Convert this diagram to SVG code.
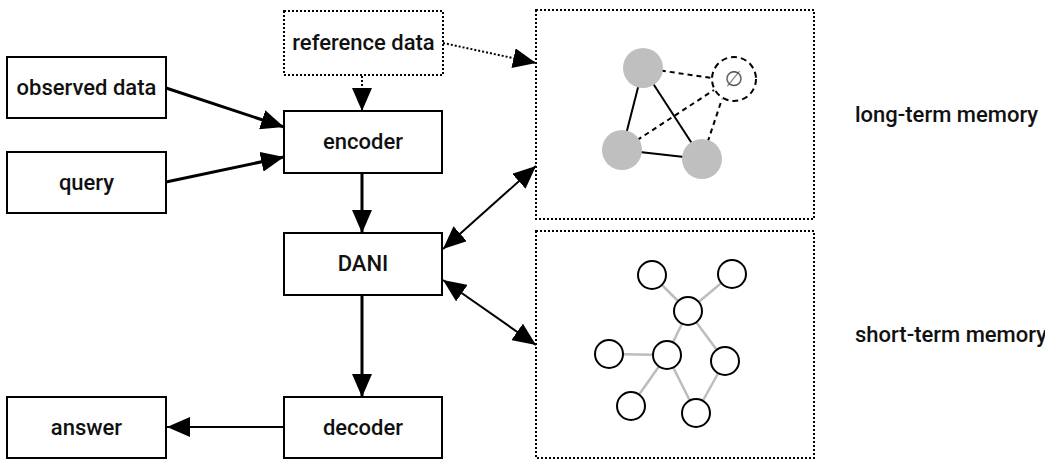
<svg xmlns="http://www.w3.org/2000/svg" width="1045" height="460" viewBox="0 0 1045 460">
<defs>
<marker id="ah2" viewBox="0 0 23 20" refX="23" refY="10" markerWidth="23" markerHeight="20" markerUnits="userSpaceOnUse" orient="auto-start-reverse">
<path d="M0,0 L23,10 L0,20 z" fill="#000"/>
</marker>
<style>
.box{fill:#fff;stroke:#000;stroke-width:2}
.dot{fill:#fff;stroke:#000;stroke-width:2;stroke-dasharray:2 2}
.lbl{font-family:Roboto,"Liberation Sans",sans-serif;font-weight:500;font-size:22px;fill:#111;text-anchor:middle}
.side{font-family:Roboto,"Liberation Sans",sans-serif;font-weight:500;font-size:22px;fill:#111}
.thick{stroke:#000;stroke-width:3;fill:none}
.thin{stroke:#000;stroke-width:2;fill:none}
.g{fill:#bfbfbf}
.sol{stroke:#000;stroke-width:2}
.dsh{stroke:#000;stroke-width:2;stroke-dasharray:5 4;fill:none}
.st{fill:#fff;stroke:#000;stroke-width:2}
.se{stroke:#bdbdbd;stroke-width:2.5}
</style>
</defs>
<g id="connectors">
<line class="thick" x1="166" y1="88" x2="284" y2="127" marker-end="url(#ah2)"/>
<line class="thick" x1="166" y1="182" x2="284" y2="157" marker-end="url(#ah2)"/>
<line class="thin" x1="362" y1="76" x2="362" y2="111" stroke-dasharray="2 2" marker-end="url(#ah2)"/>
<line class="thin" x1="443" y1="43" x2="536" y2="63" stroke-dasharray="2 2" marker-end="url(#ah2)"/>
<line class="thick" x1="362" y1="173" x2="362" y2="233" marker-end="url(#ah2)"/>
<line class="thin" x1="443" y1="249" x2="536" y2="166" marker-start="url(#ah2)" marker-end="url(#ah2)"/>
<line class="thin" x1="443" y1="280" x2="536" y2="345" marker-start="url(#ah2)" marker-end="url(#ah2)"/>
<line class="thick" x1="362" y1="295" x2="362" y2="397" marker-end="url(#ah2)"/>
<line class="thin" x1="284" y1="427" x2="167" y2="427" marker-end="url(#ah2)"/>
</g>
<g id="observed-data"><rect class="box" x="7" y="57" width="159" height="61"/><text class="lbl" x="86.5" y="95">observed data</text></g>
<g id="query"><rect class="box" x="7" y="152" width="159" height="61"/><text class="lbl" x="86.5" y="190">query</text></g>
<g id="reference-data"><rect class="dot" x="284" y="11" width="159" height="64"/><text class="lbl" x="363.5" y="50">reference data</text></g>
<g id="encoder"><rect class="box" x="284" y="111" width="158" height="62"/><text class="lbl" x="363" y="149">encoder</text></g>
<g id="dani"><rect class="box" x="284" y="233" width="158" height="62"/><text class="lbl" x="363" y="271">DANI</text></g>
<g id="decoder"><rect class="box" x="284" y="397" width="158" height="61"/><text class="lbl" x="363" y="435">decoder</text></g>
<g id="answer"><rect class="box" x="7" y="397" width="159" height="61"/><text class="lbl" x="86.5" y="435">answer</text></g>
<g id="long-term-memory">
<rect class="dot" x="536" y="10" width="278" height="209"/>
<line class="sol" x1="643" y1="68" x2="622" y2="150"/>
<line class="sol" x1="643" y1="68" x2="702" y2="159"/>
<line class="sol" x1="622" y1="150" x2="702" y2="159"/>
<line class="dsh" x1="643" y1="68" x2="712" y2="78"/>
<line class="dsh" x1="622" y1="150" x2="714" y2="90"/>
<line class="dsh" x1="702" y1="159" x2="722" y2="99"/>
<circle class="g" cx="643" cy="68" r="20"/>
<circle class="g" cx="622" cy="150" r="20"/>
<circle class="g" cx="702" cy="159" r="20"/>
<circle cx="734" cy="79" r="22" fill="#fff" stroke="#000" stroke-width="2" stroke-dasharray="6 4"/>
<text x="734" y="86" font-family="DejaVu Sans,sans-serif" font-size="21" fill="#555" text-anchor="middle">∅</text>
<text class="side" x="855" y="122">long-term memory</text>
</g>
<g id="short-term-memory">
<rect class="dot" x="536" y="231" width="278" height="227"/>
<line class="se" x1="652" y1="275" x2="688" y2="311"/>
<line class="se" x1="732" y1="274" x2="688" y2="311"/>
<line class="se" x1="688" y1="311" x2="667" y2="355"/>
<line class="se" x1="688" y1="311" x2="725" y2="361"/>
<line class="se" x1="609" y1="354" x2="667" y2="355"/>
<line class="se" x1="667" y1="355" x2="631" y2="406"/>
<line class="se" x1="667" y1="355" x2="696" y2="413"/>
<line class="se" x1="725" y1="361" x2="696" y2="413"/>
<circle class="st" cx="652" cy="275" r="14"/>
<circle class="st" cx="732" cy="274" r="14"/>
<circle class="st" cx="688" cy="311" r="14"/>
<circle class="st" cx="609" cy="354" r="14"/>
<circle class="st" cx="667" cy="355" r="14"/>
<circle class="st" cx="725" cy="361" r="14"/>
<circle class="st" cx="631" cy="406" r="14"/>
<circle class="st" cx="696" cy="413" r="14"/>
<text class="side" x="855" y="342">short-term memory</text>
</g>
</svg>
